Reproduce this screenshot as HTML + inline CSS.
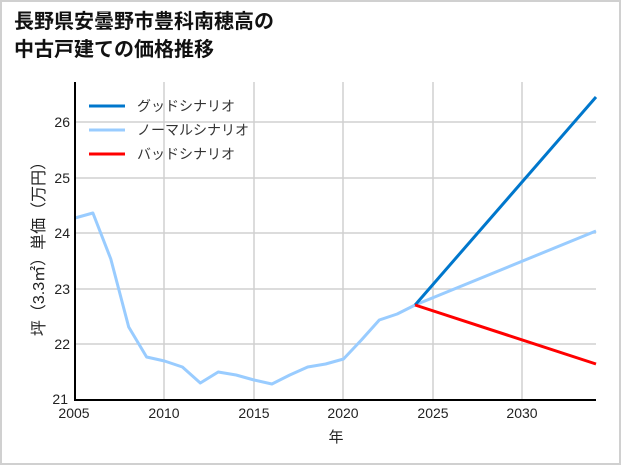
<!DOCTYPE html>
<html><head><meta charset="utf-8"><style>
body{margin:0;background:#fff}
svg{display:block}
text{font-family:"Liberation Sans","Noto Sans CJK JP",sans-serif}
</style></head><body>
<svg width="621" height="465" viewBox="0 0 621 465">
<rect x="1" y="1" width="619" height="463" fill="#fff" stroke="#d0d0d0" stroke-width="2"/>
<text x="14" y="28" font-size="20" font-weight="bold" fill="#111">長野県安曇野市豊科南穂高の</text>
<text x="14" y="56" font-size="20" font-weight="bold" fill="#111">中古戸建ての価格推移</text>
<g stroke="#d0d0d0" stroke-width="1.5">
<line x1="164" y1="82" x2="164" y2="400"/><line x1="254" y1="82" x2="254" y2="400"/>
<line x1="343" y1="82" x2="343" y2="400"/><line x1="433" y1="82" x2="433" y2="400"/>
<line x1="522" y1="82" x2="522" y2="400"/>
<line x1="75" y1="122" x2="596" y2="122"/><line x1="75" y1="178" x2="596" y2="178"/>
<line x1="75" y1="233" x2="596" y2="233"/><line x1="75" y1="289" x2="596" y2="289"/>
<line x1="75" y1="344" x2="596" y2="344"/>
</g>
<g fill="none" stroke-width="3" stroke-linejoin="round">
<polyline stroke="#99ccff" points="75,218 92.9,213 110.8,259 128.7,327 146.6,357 164.5,361 182.4,367 200.3,383 218.2,372 236.1,375 254,380 271.9,384 289.8,375 307.7,367 325.6,364 343.5,359 361.4,340 379.3,320 397.2,314 415.1,305 596,231"/>
<polyline stroke="#0077cc" points="415.1,305 596,97"/>
<polyline stroke="#ff0000" points="415.1,305 596,364"/>
</g>
<line x1="75" y1="82" x2="75" y2="400" stroke="#000" stroke-width="2"/>
<line x1="74" y1="400" x2="596" y2="400" stroke="#000" stroke-width="2"/>
<g font-size="14" fill="#222" text-anchor="end">
<text x="70" y="127">26</text><text x="70" y="183">25</text><text x="70" y="238">24</text>
<text x="70" y="294">23</text><text x="70" y="349">22</text><text x="68" y="404">21</text>
</g>
<g font-size="14" fill="#222" text-anchor="middle">
<text x="74" y="418">2005</text><text x="164" y="418">2010</text><text x="254" y="418">2015</text>
<text x="343" y="418">2020</text><text x="433" y="418">2025</text><text x="522" y="418">2030</text>
<text x="336" y="442" font-size="15">年</text>
</g>
<text transform="translate(44,245) rotate(-90)" font-size="16" fill="#222" text-anchor="middle">坪（3.3㎡）単価（万円）</text>
<line x1="89" y1="106" x2="125" y2="106" stroke="#0077cc" stroke-width="3"/>
<line x1="89" y1="130" x2="125" y2="130" stroke="#99ccff" stroke-width="3"/>
<line x1="89" y1="154" x2="125" y2="154" stroke="#ff0000" stroke-width="3"/>
<g font-size="14" fill="#333">
<text x="137" y="111">グッドシナリオ</text>
<text x="137" y="135">ノーマルシナリオ</text>
<text x="137" y="159">バッドシナリオ</text>
</g>
</svg>
</body></html>
